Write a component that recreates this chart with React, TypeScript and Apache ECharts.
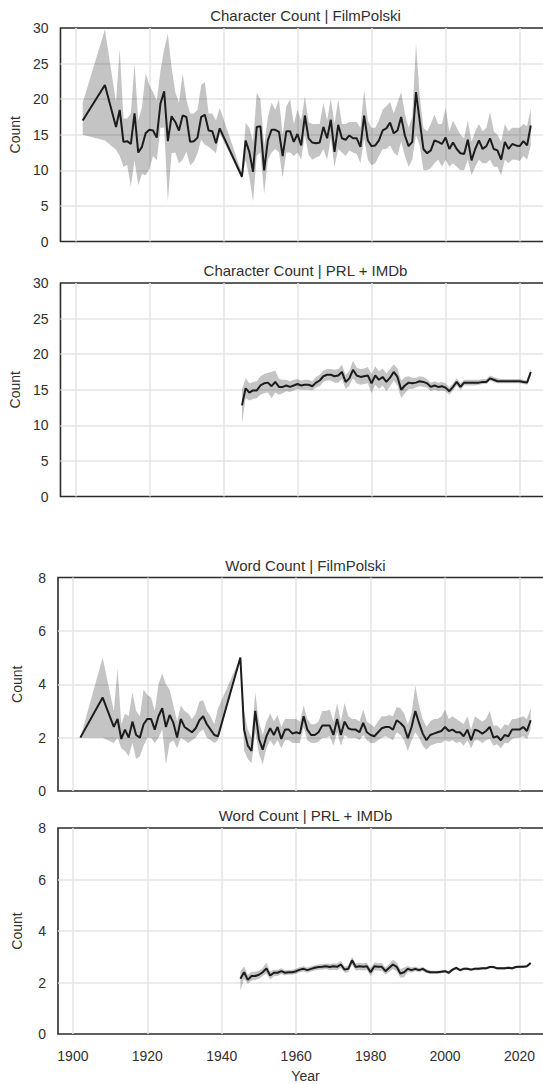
import React, { useEffect, useRef } from "react";
import * as echarts from "echarts";

const FONT = "'Liberation Sans', Arial, Helvetica, sans-serif";
const TEXT = "#303030";

// ---------- data ----------
const yearsPrewar = [1902, 1908, 1911, 1912, 1913, 1914, 1915, 1916, 1917, 1918, 1919, 1920, 1921, 1922, 1923, 1924, 1925, 1926, 1927, 1928, 1929, 1930, 1931, 1932, 1933, 1934, 1935, 1936, 1937, 1938, 1939];
const yearsPostwar = [1945, 1946, 1947, 1948, 1949, 1950, 1951, 1952, 1953, 1954, 1955, 1956, 1957, 1958, 1959, 1960, 1961, 1962, 1963, 1964, 1965, 1966, 1967, 1968, 1969, 1970, 1971, 1972, 1973, 1974, 1975, 1976, 1977, 1978, 1979, 1980, 1981, 1982, 1983, 1984, 1985, 1986, 1987, 1988, 1989, 1990, 1991, 1992, 1993, 1994, 1995, 1996, 1997, 1998, 1999, 2000, 2001, 2002, 2003, 2004, 2005, 2006, 2007, 2008, 2009, 2010, 2011, 2012, 2013, 2014, 2015, 2016, 2017, 2018, 2019, 2020, 2021, 2022, 2023];
const yearsFilmPolski = [...yearsPrewar, ...yearsPostwar];
const yearsPrlImdb = yearsPostwar;

// Character Count | FilmPolski
const fpCharMean = [17.0, 22.0, 16.1, 18.5, 14.0, 14.1, 13.7, 18.0, 12.5, 13.3, 15.2, 15.7, 15.6, 14.6, 19.4, 21.1, 14.1, 17.6, 16.8, 15.6, 17.7, 17.5, 14.0, 14.1, 14.6, 17.5, 17.8, 15.6, 15.5, 13.8, 15.9,
  9.1, 14.2, 12.6, 9.8, 16.1, 16.2, 10.0, 14.2, 15.7, 15.7, 15.4, 12.0, 15.5, 15.5, 14.0, 15.1, 13.5, 17.7, 14.5, 13.9, 13.8, 13.9, 16.1, 14.5, 17.1, 12.6, 16.4, 14.5, 14.3, 14.9, 14.5, 14.5, 13.3, 17.7, 14.2, 13.4, 13.5, 14.2, 15.6, 15.9, 16.7, 15.2, 15.6, 17.5, 14.9, 13.4, 14.0, 21.0, 17.0, 13.0, 12.4, 12.8, 14.2, 14.0, 13.7, 14.6, 13.0, 13.9, 13.0, 12.4, 12.3, 14.3, 11.4, 13.0, 14.2, 13.0, 13.4, 14.5, 13.0, 12.8, 11.5, 14.0, 13.0, 13.7, 13.5, 13.4, 14.1, 13.5, 16.3];
const fpCharLow = [15.0, 14.2, 12.9, 12.0, 10.5, 10.8, 7.7, 11.4, 7.9, 9.5, 9.3, 10.2, 12.0, 11.4, 16.0, 16.0, 5.6, 12.4, 12.5, 11.0, 11.5, 12.6, 10.7, 11.2, 12.4, 14.3, 13.6, 13.3, 12.9, 12.4, 15.2,
  8.8, 11.4, 9.0, 5.6, 12.0, 12.5, 6.7, 11.5, 12.5, 13.0, 12.5, 9.0, 12.5, 12.5, 12.0, 12.5, 11.5, 15.0, 12.2, 11.5, 11.8, 12.0, 13.0, 11.5, 14.5, 10.5, 13.0, 12.5, 12.0, 12.8, 12.5, 12.3, 11.0, 14.5, 11.5, 10.7, 11.0, 12.0, 13.0, 13.0, 13.5, 12.5, 12.0, 14.0, 12.0, 10.5, 11.5, 15.0, 13.5, 10.0, 10.0, 10.3, 11.0, 11.5, 10.5, 11.5, 10.5, 11.0, 10.5, 10.0, 10.0, 11.5, 9.3, 10.5, 11.5, 11.0, 11.0, 11.5, 10.5, 10.5, 9.3, 11.5, 11.0, 11.5, 11.5, 11.3, 12.0, 11.5, 13.5];
const fpCharHigh = [19.5, 29.8, 19.6, 27.1, 17.3, 17.3, 18.0, 25.0, 17.0, 18.9, 23.6, 22.0, 21.0, 19.8, 24.0, 27.0, 29.2, 24.5, 21.0, 19.5, 23.6, 20.0, 18.0, 18.0, 18.5, 22.0, 22.4, 18.0, 18.0, 17.0, 18.8,
  9.6, 16.7, 16.0, 14.0, 20.9, 20.0, 13.5, 17.5, 19.5, 18.5, 20.0, 15.0, 19.0, 20.0, 16.5, 18.5, 17.0, 20.4, 16.8, 16.5, 16.5, 16.5, 19.5, 17.0, 20.1, 16.5, 20.0, 16.5, 16.5, 16.8, 16.8, 16.8, 16.0, 21.3, 17.0, 16.0, 16.0, 17.0, 18.5, 19.0, 19.6, 18.0, 19.5, 21.0, 18.0, 16.0, 17.5, 27.9, 20.5, 16.0, 15.5, 16.5, 17.8, 16.5, 16.5, 18.8, 15.5, 17.0, 16.0, 15.0, 14.5, 17.0, 14.0, 15.5, 16.5, 15.5, 16.0, 18.2, 15.5, 15.0, 14.0, 16.5, 15.5, 16.0, 16.0, 16.0, 16.5, 16.2, 18.7];

// Character Count | PRL + IMDb
const prlCharMean = [12.8, 15.2, 14.6, 14.9, 14.9, 15.6, 15.9, 16.0, 15.5, 16.1, 15.4, 15.4, 15.6, 15.4, 15.6, 15.8, 15.6, 15.7, 15.7, 15.5, 16.0, 16.3, 16.9, 17.1, 17.1, 16.9, 17.0, 17.5, 16.1, 16.6, 17.8, 17.0, 16.8, 16.9, 17.0, 15.9, 17.0, 16.4, 16.8, 16.1, 16.7, 17.5, 16.8, 15.0, 15.6, 16.0, 15.9, 16.0, 16.2, 16.1, 15.9, 15.4, 15.6, 15.4, 15.5, 15.3, 14.8, 15.4, 16.1, 15.4, 16.0, 16.0, 16.0, 16.0, 16.0, 16.1, 16.1, 16.6, 16.4, 16.2, 16.2, 16.2, 16.2, 16.2, 16.2, 16.2, 16.1, 16.0, 17.5];
const prlCharLow = [10.2, 13.8, 13.5, 13.7, 13.8, 14.3, 14.5, 14.6, 13.8, 14.6, 14.3, 14.5, 14.8, 14.7, 14.9, 15.1, 15.0, 15.0, 15.0, 14.9, 15.3, 15.5, 16.1, 16.3, 16.3, 16.0, 16.0, 16.5, 15.1, 15.6, 16.6, 15.9, 15.7, 15.8, 15.9, 14.5, 15.7, 15.1, 15.6, 14.8, 15.5, 16.3, 15.6, 13.8, 14.5, 15.1, 15.1, 15.3, 15.5, 15.4, 15.3, 14.8, 15.0, 14.8, 14.9, 14.8, 14.3, 14.9, 15.6, 15.0, 15.6, 15.6, 15.6, 15.6, 15.7, 15.8, 15.8, 16.3, 16.1, 15.9, 15.9, 15.9, 15.9, 15.9, 15.9, 15.9, 15.8, 15.7, 17.0];
const prlCharHigh = [15.0, 16.6, 15.9, 16.1, 16.2, 16.9, 17.2, 17.4, 17.5, 17.7, 16.5, 16.4, 16.4, 16.2, 16.4, 16.5, 16.3, 16.4, 16.4, 16.2, 16.8, 17.1, 17.7, 17.9, 17.9, 17.8, 17.9, 18.5, 17.1, 17.6, 19.1, 18.1, 17.9, 18.0, 18.2, 17.2, 18.3, 17.6, 18.0, 17.3, 17.9, 18.6, 18.0, 16.3, 16.8, 16.9, 16.7, 16.7, 16.9, 16.8, 16.5, 16.0, 16.2, 16.0, 16.1, 15.9, 15.3, 15.9, 16.6, 15.9, 16.4, 16.4, 16.4, 16.4, 16.4, 16.5, 16.5, 17.0, 16.8, 16.6, 16.5, 16.5, 16.5, 16.5, 16.5, 16.5, 16.4, 16.3, 18.0];

// Word Count | FilmPolski
const fpWordMean = [2.0, 3.5, 2.4, 2.7, 1.95, 2.3, 2.0, 2.6, 2.1, 2.0, 2.5, 2.7, 2.7, 2.3, 2.8, 3.1, 2.4, 2.85, 2.55, 2.0, 2.7, 2.4, 2.3, 2.2, 2.35, 2.65, 2.8, 2.5, 2.3, 2.1, 2.05,
  5.0, 2.3, 1.7, 1.5, 3.0, 1.95, 1.55, 2.05, 2.35, 2.1, 2.4, 1.95, 2.3, 2.3, 2.15, 2.2, 2.15, 2.8, 2.3, 2.1, 2.1, 2.2, 2.45, 2.45, 2.45, 2.1, 2.7, 2.1, 2.6, 2.35, 2.3, 2.3, 2.2, 2.55, 2.2, 2.1, 2.05, 2.2, 2.35, 2.4, 2.4, 2.3, 2.65, 2.55, 2.4, 1.98, 2.4, 3.0, 2.55, 2.15, 1.9, 2.1, 2.15, 2.2, 2.25, 2.4, 2.25, 2.3, 2.2, 2.2, 2.05, 2.3, 1.9, 2.3, 2.25, 2.15, 2.25, 2.4, 2.0, 2.05, 1.9, 2.1, 2.05, 2.3, 2.3, 2.3, 2.4, 2.25, 2.65];
const fpWordLow = [2.0, 2.0, 1.8, 2.0, 1.6, 1.5, 1.3, 1.8, 1.2, 1.3, 1.7, 2.0, 2.0, 1.8, 2.0, 2.3, 1.0, 1.8, 1.9, 1.6, 2.0, 1.9, 1.8, 1.9, 2.0, 2.2, 2.3, 2.0, 1.9, 1.8, 1.9,
  5.0, 1.5, 1.2, 1.04, 2.2, 1.4, 1.0, 1.6, 1.9, 1.7, 1.9, 1.6, 1.9, 1.9, 1.8, 1.8, 1.8, 2.4, 1.9, 1.8, 1.8, 1.85, 2.0, 2.0, 2.05, 1.7, 2.2, 1.7, 2.1, 2.0, 2.0, 2.0, 1.9, 2.1, 1.9, 1.8, 1.8, 1.9, 2.0, 2.05, 2.0, 1.9, 2.2, 2.1, 1.9, 1.5, 1.9, 2.2, 2.0, 1.7, 1.55, 1.7, 1.75, 1.8, 1.8, 1.9, 1.85, 1.9, 1.8, 1.85, 1.7, 1.9, 1.6, 1.9, 1.9, 1.8, 1.9, 1.95, 1.7, 1.75, 1.6, 1.8, 1.8, 1.95, 2.0, 2.0, 2.05, 1.95, 2.3];
const fpWordHigh = [2.0, 5.0, 3.0, 4.6, 2.5, 2.9, 2.8, 3.7, 3.0, 2.8, 3.8, 3.6, 3.5, 3.0, 4.0, 4.4, 4.0, 3.8, 3.2, 2.6, 3.2, 3.0, 2.9, 2.7, 2.9, 3.35, 3.4, 3.0, 2.8, 2.5, 3.1,
  5.0, 3.0, 2.3, 2.0, 3.7, 2.6, 2.1, 2.6, 2.9, 2.6, 2.85, 2.4, 2.7, 2.7, 2.7, 2.7, 2.6, 3.2, 2.7, 2.5, 2.5, 2.6, 3.0, 3.0, 3.05, 2.6, 3.3, 2.6, 3.3, 2.8, 2.7, 2.7, 2.6, 3.05, 2.6, 2.5, 2.4, 2.6, 2.8, 2.8, 2.85, 2.8, 3.15, 3.1, 2.9, 2.5, 2.9, 3.95, 3.2, 2.7, 2.4, 2.6, 2.7, 2.7, 2.8, 3.05, 2.7, 2.8, 2.7, 2.6, 2.5, 2.8, 2.3, 2.8, 2.7, 2.6, 2.7, 3.0, 2.45, 2.45, 2.3, 2.5, 2.45, 2.7, 2.7, 2.75, 2.8, 2.7, 3.1];

// Word Count | PRL + IMDb
const prlWordMean = [2.15, 2.4, 2.1, 2.25, 2.25, 2.3, 2.4, 2.55, 2.27, 2.38, 2.38, 2.44, 2.38, 2.4, 2.4, 2.44, 2.5, 2.53, 2.48, 2.53, 2.57, 2.6, 2.61, 2.63, 2.6, 2.63, 2.61, 2.7, 2.5, 2.53, 2.86, 2.6, 2.63, 2.61, 2.63, 2.4, 2.63, 2.61, 2.61, 2.44, 2.57, 2.7, 2.61, 2.35, 2.4, 2.53, 2.48, 2.53, 2.48, 2.53, 2.44, 2.4, 2.4, 2.4, 2.42, 2.44, 2.38, 2.5, 2.57, 2.48, 2.53, 2.53, 2.5, 2.53, 2.53, 2.55, 2.55, 2.6, 2.6, 2.55, 2.55, 2.55, 2.57, 2.55, 2.6, 2.61, 2.61, 2.63, 2.76];
const prlWordLow = [1.68, 2.15, 1.95, 2.08, 2.1, 2.15, 2.25, 2.35, 2.12, 2.24, 2.25, 2.32, 2.28, 2.3, 2.3, 2.34, 2.4, 2.43, 2.38, 2.43, 2.47, 2.5, 2.5, 2.52, 2.48, 2.5, 2.48, 2.56, 2.38, 2.4, 2.7, 2.46, 2.49, 2.47, 2.49, 2.25, 2.48, 2.46, 2.46, 2.3, 2.42, 2.52, 2.44, 2.18, 2.2, 2.42, 2.38, 2.44, 2.4, 2.45, 2.37, 2.33, 2.34, 2.34, 2.36, 2.38, 2.32, 2.44, 2.51, 2.43, 2.48, 2.48, 2.45, 2.48, 2.48, 2.5, 2.5, 2.55, 2.55, 2.5, 2.5, 2.5, 2.52, 2.5, 2.55, 2.56, 2.56, 2.58, 2.7];
const prlWordHigh = [2.45, 2.62, 2.3, 2.42, 2.42, 2.47, 2.56, 2.78, 2.43, 2.5, 2.5, 2.55, 2.48, 2.5, 2.5, 2.54, 2.6, 2.63, 2.58, 2.63, 2.67, 2.7, 2.72, 2.74, 2.72, 2.75, 2.74, 2.84, 2.62, 2.66, 3.0, 2.74, 2.77, 2.75, 2.77, 2.55, 2.78, 2.76, 2.76, 2.58, 2.72, 2.88, 2.78, 2.52, 2.58, 2.64, 2.58, 2.62, 2.56, 2.61, 2.51, 2.47, 2.46, 2.46, 2.48, 2.5, 2.44, 2.56, 2.63, 2.53, 2.58, 2.58, 2.55, 2.58, 2.58, 2.6, 2.6, 2.65, 2.65, 2.6, 2.6, 2.6, 2.62, 2.6, 2.65, 2.66, 2.66, 2.68, 2.82];

const titles = ["Character Count | FilmPolski", "Character Count | PRL + IMDb", "Word Count | FilmPolski", "Word Count | PRL + IMDb"];
const yTicksChar = [0, 5, 10, 15, 20, 25, 30];
const yTicksWord = [0, 2, 4, 6, 8];
const xTickYears = [1900, 1920, 1940, 1960, 1980, 2000, 2020];

// ---------- layout ----------
const GRID_LEFT = 58;
const GRID_WIDTH = 495;
const X_MIN = 1896;
const X_MAX = 2029;
const panelTops = [28, 283, 577.5, 828];
const panelHeights = [213.5, 213.5, 213.5, 212];

const panels = [
  { years: yearsFilmPolski, mean: fpCharMean, low: fpCharLow, high: fpCharHigh, yTicks: yTicksChar },
  { years: yearsPrlImdb, mean: prlCharMean, low: prlCharLow, high: prlCharHigh, yTicks: yTicksChar },
  { years: yearsFilmPolski, mean: fpWordMean, low: fpWordLow, high: fpWordHigh, yTicks: yTicksWord },
  { years: yearsPrlImdb, mean: prlWordMean, low: prlWordLow, high: prlWordHigh, yTicks: yTicksWord },
];

function buildOption() {
  const grid: any[] = [];
  const xAxis: any[] = [];
  const yAxis: any[] = [];
  const series: any[] = [];
  const title: any[] = [];

  panels.forEach((p, i) => {
    const isLast = i === panels.length - 1;
    grid.push({
      left: GRID_LEFT,
      top: panelTops[i],
      width: GRID_WIDTH,
      height: panelHeights[i],
      show: true,
      borderColor: "#2b2b2b",
      borderWidth: 1.6,
      backgroundColor: "transparent",
    });
    title.push({
      text: titles[i],
      left: GRID_LEFT + GRID_WIDTH / 2,
      top: panelTops[i] - 20,
      textAlign: "center",
      padding: 0,
      textStyle: { fontFamily: FONT, fontSize: 15, fontWeight: "normal", color: TEXT },
    });
    xAxis.push({
      type: "value",
      gridIndex: i,
      min: X_MIN,
      max: X_MAX,
      minInterval: 20,
      maxInterval: 20,
      axisLine: { show: false },
      axisTick: { show: false },
      splitLine: { show: true, showMinLine: false, showMaxLine: false, lineStyle: { color: "#e4e4e4", width: 1.5 } },
      axisLabel: {
        show: isLast,
        margin: 15,
        fontFamily: FONT,
        fontSize: 14,
        color: TEXT,
        formatter: (v: number) => (xTickYears.includes(v) ? String(v) : ""),
      },
      name: isLast ? "Year" : "",
      nameLocation: "middle",
      nameGap: 35,
      nameTextStyle: { fontFamily: FONT, fontSize: 14, color: TEXT },
    });
    const yMax = p.yTicks[p.yTicks.length - 1];
    yAxis.push({
      type: "value",
      gridIndex: i,
      min: 0,
      max: yMax,
      interval: p.yTicks[1] - p.yTicks[0],
      axisLine: { show: false },
      axisTick: { show: false },
      splitLine: { show: true, showMinLine: false, showMaxLine: false, lineStyle: { color: "#e4e4e4", width: 1.5 } },
      axisLabel: { margin: 12, fontFamily: FONT, fontSize: 14, color: TEXT },
      name: "Count",
      nameLocation: "middle",
      nameGap: 34,
      nameTextStyle: { fontFamily: FONT, fontSize: 14, color: TEXT },
    });
    // confidence band: one polygon drawn through the axis scales (api.coord)
    series.push({
      type: "custom",
      xAxisIndex: i,
      yAxisIndex: i,
      data: p.years.map((y, k) => [y, p.low[k], p.high[k]]),
      encode: { x: 0, y: [1, 2] },
      silent: true,
      z: 2,
      renderItem: (params: any, api: any) => {
        if (params.dataIndex !== 0) return null;
        const upper = p.years.map((y, k) => api.coord([y, p.high[k]]));
        const lower = p.years.map((y, k) => api.coord([y, p.low[k]])).reverse();
        return {
          type: "polygon",
          shape: { points: upper.concat(lower) },
          style: { fill: "rgba(0,0,0,0.23)", stroke: "none" },
        };
      },
    });
    series.push({
      type: "line",
      xAxisIndex: i,
      yAxisIndex: i,
      data: p.years.map((y, k) => [y, p.mean[k]]),
      symbol: "none",
      silent: true,
      lineStyle: { color: "#1c1c1c", width: 2 },
      z: 3,
    });
  });

  return { animation: false, backgroundColor: "#ffffff", title, grid, xAxis, yAxis, series };
}

export default function App() {
  const ref = useRef<HTMLDivElement>(null);
  useEffect(() => {
    if (!ref.current) return;
    const chart = echarts.init(ref.current, undefined, { renderer: "svg" });
    chart.setOption(buildOption() as any);
    return () => chart.dispose();
  }, []);
  return (
    <div style={{ position: "absolute", left: 0, top: 0, width: 543, height: 1084, overflow: "hidden", background: "#fff" }}>
      <div ref={ref} style={{ width: 560, height: 1084 }} />
    </div>
  );
}
